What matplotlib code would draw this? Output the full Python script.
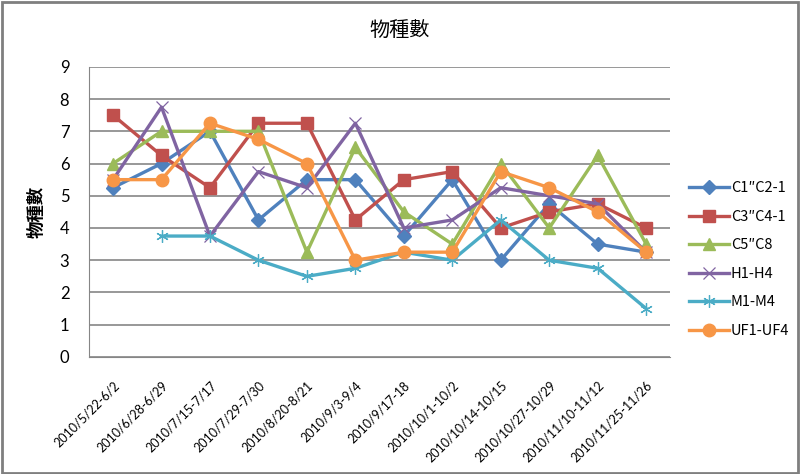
import matplotlib
matplotlib.use("Agg")
import matplotlib.pyplot as plt
from matplotlib.patches import Rectangle

plt.rcParams["font.family"] = ["Noto Sans CJK TC", "DejaVu Sans"]

periods = [
    "2010/5/22-6/2", "2010/6/28-6/29", "2010/7/15-7/17", "2010/7/29-7/30",
    "2010/8/20-8/21", "2010/9/3-9/4", "2010/9/17-18", "2010/10/1-10/2",
    "2010/10/14-10/15", "2010/10/27-10/29", "2010/11/10-11/12", "2010/11/25-11/26",
]
c1_c2 = [5.25, 6.0, 7.0, 4.25, 5.5, 5.5, 3.75, 5.5, 3.0, 4.75, 3.5, 3.25]
c3_c4 = [7.5, 6.25, 5.25, 7.25, 7.25, 4.25, 5.5, 5.75, 4.0, 4.5, 4.75, 4.0]
c5_c8 = [6.0, 7.0, 7.0, 7.0, 3.25, 6.5, 4.5, 3.5, 6.0, 4.0, 6.25, 3.5]
h1_h4 = [5.5, 7.75, 3.75, 5.75, 5.25, 7.25, 4.0, 4.25, 5.25, 5.0, 4.75, 3.25]
m1_m4 = [None, 3.75, 3.75, 3.0, 2.5, 2.75, 3.25, 3.0, 4.25, 3.0, 2.75, 1.5]
uf1_uf4 = [5.5, 5.5, 7.25, 6.75, 6.0, 3.0, 3.25, 3.25, 5.75, 5.25, 4.5, 3.25]

series = [
    ("C1\u2033C2-1", c1_c2, "#4F81BD", "D", 7),
    ("C3\u2033C4-1", c3_c4, "#C0504D", "s", 8.5),
    ("C5\u2033C8", c5_c8, "#9BBB59", "^", 8.5),
    ("H1-H4", h1_h4, "#8064A2", "x", 8),
    ("M1-M4", m1_m4, "#4BACC6", (6, 2, 0), 9),
    ("UF1-UF4", uf1_uf4, "#F79646", "o", 9),
]

fig = plt.figure(figsize=(8, 4.74), dpi=100)
ax = fig.add_axes([0.111, 0.247, 0.727, 0.612])

x = list(range(len(periods)))
for label, vals, color, marker, ms in series:
    xs = [i for i, v in zip(x, vals) if v is not None]
    ys = [v for v in vals if v is not None]
    thin = marker in ("x",) or isinstance(marker, tuple)
    ax.plot(xs, ys, color=color, linewidth=2.4, marker=marker, markersize=ms,
            markeredgewidth=0.9 if thin else 1.0,
            markeredgecolor=color, label=label)

ax.set_xlim(-0.5, len(periods) - 0.5)
ax.set_ylim(0, 9)
ax.set_yticks(range(10))
ax.set_xticks(x)
ax.set_xticklabels(periods, rotation=45, ha="right", rotation_mode="anchor",
                   fontsize=9, family="Lato")
ax.tick_params(axis="y", labelsize=12, length=0, pad=14)
ax.tick_params(axis="x", length=0, pad=16)
for lbl in ax.get_yticklabels():
    lbl.set_family("Lato")

ax.grid(axis="y", color="#868686", linewidth=1.2)
ax.set_axisbelow(True)
for side in ("top", "right"):
    ax.spines[side].set_visible(False)
ax.spines["left"].set_color("#868686")
ax.spines["bottom"].set_color("#868686")

ax.set_ylabel("物種數", fontsize=12.5, fontweight="bold", labelpad=10)
fig.text(0.5, 0.935, "物種數", ha="center", va="center", fontsize=14.5)

ax.legend(loc="center left", bbox_to_anchor=(0.845, 0.4525),
          bbox_transform=fig.transFigure, frameon=False, fontsize=10.5,
          handlelength=2.7, labelspacing=1.0, handletextpad=0.15)

fig.patches.append(Rectangle((0.002, 0.003), 0.995, 0.993, transform=fig.transFigure,
                             fill=False, edgecolor="#7f7f7f", linewidth=2))

fig.savefig("out.png", dpi=100)
